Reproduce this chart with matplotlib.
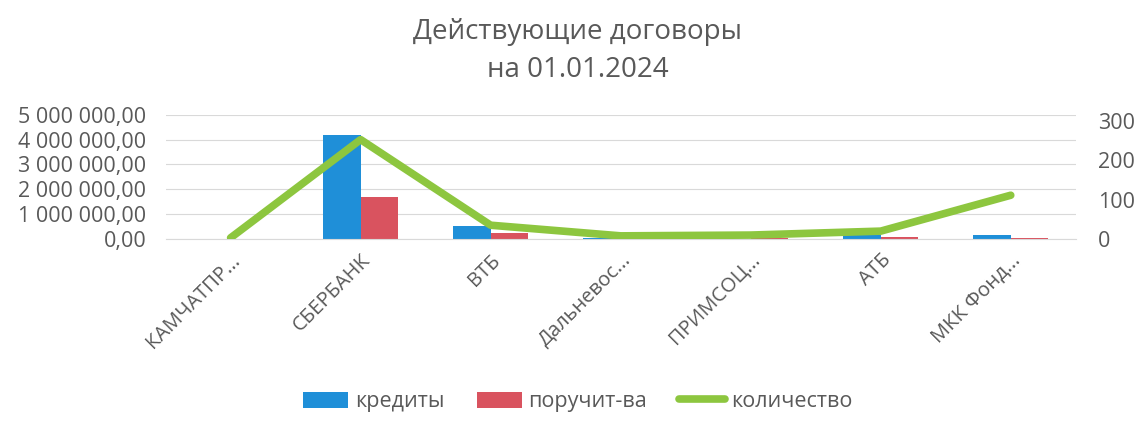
import matplotlib.pyplot as plt
import matplotlib.ticker as mticker
import numpy as np

plt.rcParams['font.family'] = ['Open Sans', 'DejaVu Sans']

banks = ['КАМЧАТПР...', 'СБЕРБАНК', 'ВТБ', 'Дальневос...', 'ПРИМСОЦ...', 'АТБ', 'МКК Фонд...']
credits = [20000, 4200000, 520000, 60000, 10000, 170000, 170000]
guarantees = [0, 1700000, 250000, 0, 30000, 100000, 50000]
counts = [3, 252, 35, 8, 10, 20, 111]

blue = '#1f8fd8'
red = '#d9535f'
green = '#8dc63f'
grey = '#595959'

fig = plt.figure(figsize=(11.42, 4.33), dpi=100)
ax = fig.add_axes([0.145, 0.448, 0.797, 0.287])
ax2 = ax.twinx()

x = np.arange(len(banks))
w = 0.29
ax.bar(x - w/2, credits, w, color=blue, label='кредиты', zorder=2)
ax.bar(x + w/2, guarantees, w, color=red, label='поручит-ва', zorder=2)
ax2.plot(x, counts, color=green, lw=5.5, label='количество', solid_capstyle='round')

ax.set_xlim(-0.5, len(banks) - 0.5)
ax.set_ylim(0, 5000000)
ax.set_yticks(np.arange(0, 5000001, 1000000))
ax.yaxis.set_major_formatter(mticker.FuncFormatter(
    lambda v, p: '{:,.2f}'.format(v).replace(',', ' ').replace('.', ',')))
ax2.set_ylim(0, 315)
ax2.set_yticks([0, 100, 200, 300])

ax.grid(axis='y', color='#d9d9d9', lw=0.8, zorder=0)
for a in (ax, ax2):
    for s in a.spines.values():
        s.set_visible(False)
    a.tick_params(length=0, labelsize=15.5, colors=grey)
ax.spines['bottom'].set_visible(True)
ax.spines['bottom'].set_color('#d9d9d9')
ax.tick_params(axis='y', pad=14)
ax2.tick_params(axis='y', pad=16)

ax.set_xticks(x)
ax.set_xticklabels(banks, rotation=45, ha='right', rotation_mode='anchor', fontsize=14.5)
ax.tick_params(axis='x', pad=8)

fig.text(0.506, 0.925, 'Действующие договоры', ha='center', va='center', fontsize=20, color=grey)
fig.text(0.506, 0.838, 'на 01.01.2024', ha='center', va='center', fontsize=20, color=grey)

h1, l1 = ax.get_legend_handles_labels()
h2, l2 = ax2.get_legend_handles_labels()
fig.legend(h1 + h2, l1 + l2, loc='center', bbox_to_anchor=(0.506, 0.072), ncol=3,
           frameon=False, fontsize=15.5, labelcolor=grey, handlelength=2.1,
           handleheight=0.8, columnspacing=1.5, handletextpad=0.3)

fig.savefig('out.png', dpi=100)
